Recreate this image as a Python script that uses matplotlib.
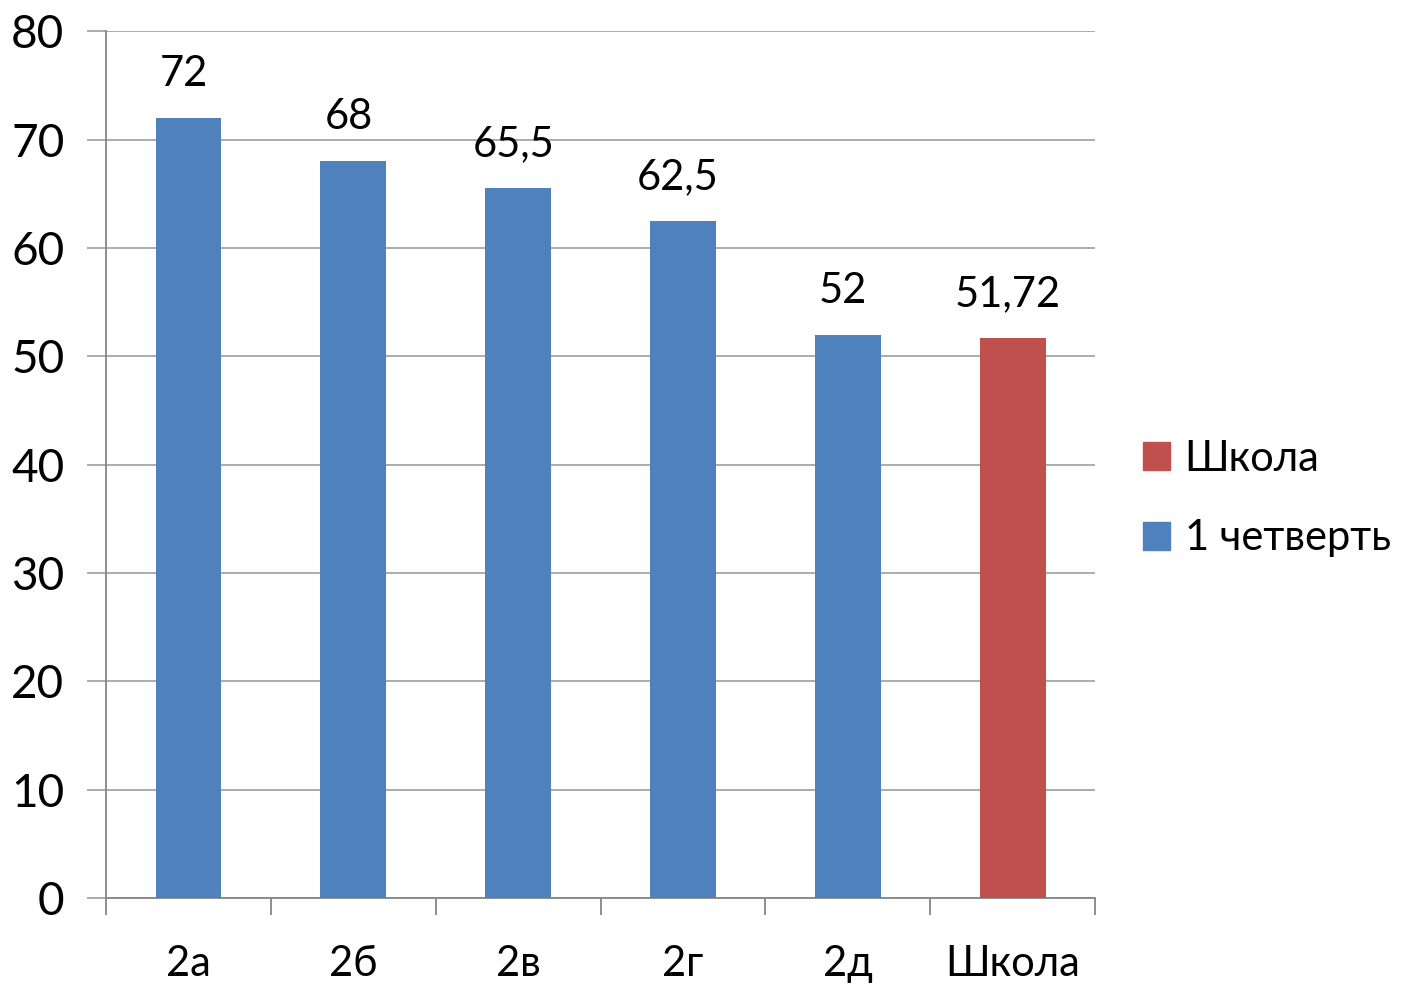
import numpy as np
import matplotlib
matplotlib.use("Agg")
import matplotlib.pyplot as plt
from matplotlib.patches import Patch

plt.rcParams["font.family"] = ["Lato", "DejaVu Sans"]

classes = ["2а", "2б", "2в", "2г", "2д", "Школа"]
values = [72, 68, 65.5, 62.5, 52, 51.72]
labels = ["72", "68", "65,5", "62,5", "52", "51,72"]
y_ticks = [0, 10, 20, 30, 40, 50, 60, 70, 80]

BLUE = "#4F81BD"
RED = "#C0504D"
GRID = "#A6A6A6"
FS = 30

fig = plt.figure(figsize=(14.03, 9.85), dpi=100)
ax = fig.add_axes([0.0756, 0.0883, 0.705, 0.880])

x = np.arange(len(classes))
colors = [BLUE] * 5 + [RED]
ax.bar(x, values, width=0.4, color=colors, zorder=3)

for xi, v, lab in zip(x, values, labels):
    ax.text(xi - 0.03, v + 2.3, lab, ha="center", va="bottom", fontsize=FS)

ax.set_xlim(-0.5, len(classes) - 0.5)
ax.set_ylim(0, 80)
ax.set_yticks(y_ticks)
ax.set_yticklabels([str(t) for t in y_ticks], fontsize=33)
ax.yaxis.grid(True, color=GRID, lw=1.3, zorder=0)
ax.tick_params(axis="y", length=14, width=1.3, color=GRID, pad=16)

ax.set_xticks(x)
ax.set_xticklabels(classes, fontsize=FS)
ax.tick_params(axis="x", length=0, pad=34)
ax.set_xticks(np.arange(-0.5, len(classes)), minor=True)
ax.tick_params(axis="x", which="minor", length=12, width=1.3, color="#868686")

for s in ["top", "right"]:
    ax.spines[s].set_visible(False)
for s in ["left", "bottom"]:
    ax.spines[s].set_color("#868686")
    ax.spines[s].set_linewidth(1.3)

handles = [Patch(color=RED, label="Школа"), Patch(color=BLUE, label="1 четверть")]
fig.legend(handles=handles, loc="center left", bbox_to_anchor=(0.8147, 0.494),
           frameon=False, fontsize=FS, handlelength=0.65, handleheight=0.65,
           handletextpad=0.35, labelspacing=1.0, borderpad=0, borderaxespad=0)

fig.savefig("out.png", dpi=100)
